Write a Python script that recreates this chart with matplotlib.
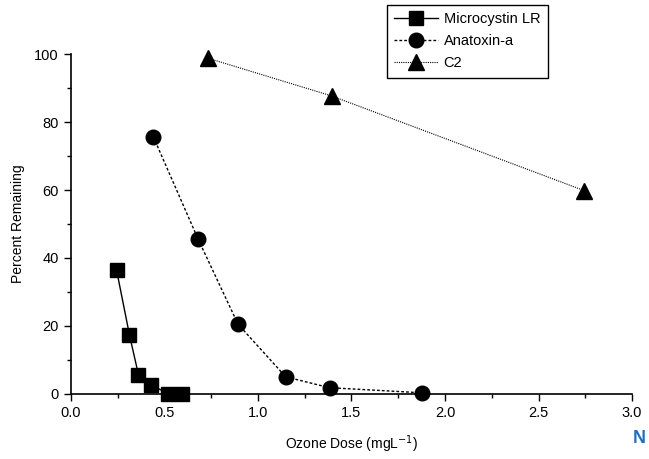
import matplotlib
matplotlib.use("Agg")
import matplotlib.pyplot as plt
from matplotlib.ticker import MultipleLocator

plt.rcParams['font.family'] = ['Liberation Sans', 'DejaVu Sans']

# Ozone dose (mg/L) vs percent remaining
micro_dose = [0.245, 0.314, 0.362, 0.431, 0.521, 0.596]
micro_pct = [36.4, 17.3, 5.6, 2.6, 0.0, 0.0]

anatox_dose = [0.441, 0.681, 0.894, 1.149, 1.383, 1.878]
anatox_pct = [75.7, 45.5, 20.5, 5.0, 1.8, 0.3]

c2_dose = [0.734, 1.394, 2.745]
c2_pct = [98.8, 87.7, 59.8]

fig = plt.figure(figsize=(6.49, 4.59), dpi=100)
ax = fig.add_axes([0.109, 0.142, 0.865, 0.740])

ax.plot(micro_dose, micro_pct, color='black', linestyle='-', linewidth=1.0,
        marker='s', markersize=10, label='Microcystin LR', clip_on=False, zorder=5)
ax.plot(anatox_dose, anatox_pct, color='black', linestyle=(0, (2, 1.5)), linewidth=1.0,
        marker='o', markersize=10.5, label='Anatoxin-a', clip_on=False, zorder=5)
ax.plot(c2_dose, c2_pct, color='black', linestyle=(0, (1, 1)), linewidth=0.8,
        marker='^', markersize=11, label='C2', clip_on=False, zorder=5)

ax.set_xlim(0, 3.0)
ax.set_ylim(0, 100)
ax.spines['top'].set_visible(False)
ax.spines['right'].set_visible(False)
ax.spines['left'].set_linewidth(1.2)
ax.spines['bottom'].set_linewidth(1.2)

ax.xaxis.set_major_locator(MultipleLocator(0.5))
ax.xaxis.set_minor_locator(MultipleLocator(0.25))
ax.yaxis.set_major_locator(MultipleLocator(20))
ax.yaxis.set_minor_locator(MultipleLocator(10))
ax.xaxis.set_major_formatter(plt.FuncFormatter(lambda v, p: f"{v:.1f}"))
ax.tick_params(which='major', direction='out', length=5, width=1.0, labelsize=10.5)
ax.tick_params(which='minor', direction='out', length=3, width=1.0)

ax.set_xlabel('Ozone Dose (mgL$^{-1}$)', fontsize=10, labelpad=10)
ax.set_ylabel('Percent Remaining', fontsize=10, labelpad=7)

leg = fig.legend(loc='upper left', bbox_to_anchor=(0.596, 0.989), fontsize=10.5,
                 frameon=True, fancybox=False, edgecolor='black', framealpha=1,
                 handlelength=3.0, borderpad=0.5, labelspacing=0.55, handletextpad=0.4,
                 borderaxespad=0)
leg.get_frame().set_linewidth(1.0)

fig.text(0.975, 0.035, 'N', color='#1f6fc5', fontsize=13, fontweight='bold')

fig.savefig('out.png', dpi=100)
